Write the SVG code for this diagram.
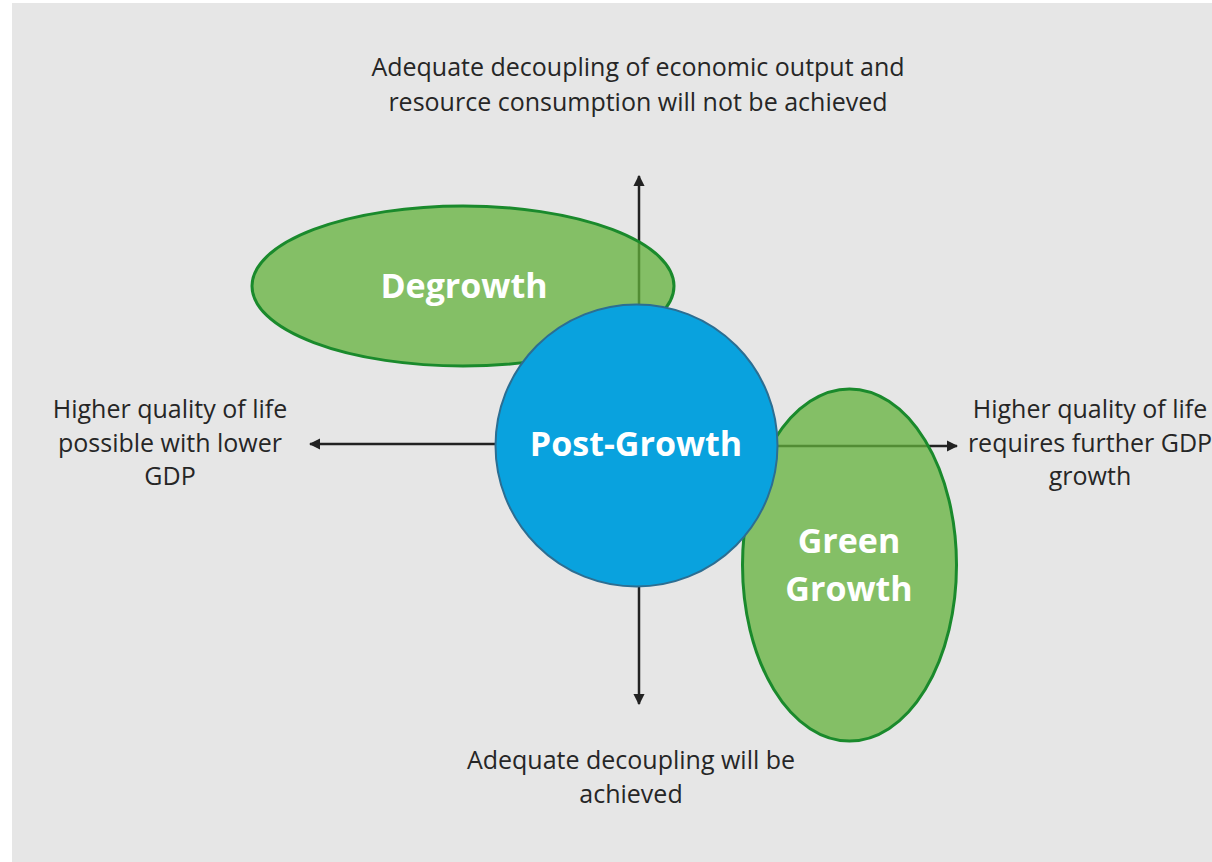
<svg xmlns="http://www.w3.org/2000/svg" width="1212" height="862" viewBox="0 0 1212 862">
<style>
.lbl{font-family:"Open Sans","Liberation Sans",sans-serif;font-size:25px;fill:#262626;text-anchor:middle}
.nl{font-family:"Open Sans","Liberation Sans",sans-serif;font-weight:bold;font-size:34px;fill:#ffffff;text-anchor:middle}
.ax{stroke:#222;stroke-width:2.5;fill:none}
.leaf{fill:#63b23b;fill-opacity:0.75;stroke:#1a8a2c;stroke-width:3}
</style>
<defs>
<marker id="ah" viewBox="0 0 10 10" refX="9" refY="5" markerWidth="4.5" markerHeight="4.5" orient="auto" markerUnits="strokeWidth">
<path d="M0,0 L10,5 L0,10 z" fill="#222"/>
</marker>
</defs>
<rect x="0" y="0" width="1212" height="862" fill="#ffffff"/>
<rect x="12" y="3" width="1200" height="859" fill="#e6e6e6"/>
<g id="connectors">
<line class="ax" x1="639" y1="320" x2="639" y2="176" marker-end="url(#ah)"/>
<line class="ax" x1="639" y1="580" x2="639" y2="704" marker-end="url(#ah)"/>
<line class="ax" x1="500" y1="444" x2="310" y2="444" marker-end="url(#ah)"/>
<line class="ax" x1="770" y1="446" x2="957" y2="446" marker-end="url(#ah)"/>
</g>
<g id="degrowth">
<ellipse class="leaf" cx="463" cy="286" rx="211" ry="80"/>
<text class="nl" x="464" y="298">Degrowth</text>
</g>
<g id="green-growth">
<ellipse class="leaf" cx="849.5" cy="565" rx="107" ry="176"/>
<text class="nl" x="849" y="553">Green</text>
<text class="nl" x="849" y="601">Growth</text>
</g>
<g id="post-growth">
<circle cx="636.5" cy="445.5" r="141" fill="#09a2de" stroke="#2c6e92" stroke-width="2"/>
<text class="nl" x="636" y="456">Post-Growth</text>
</g>
<g id="label-top">
<text class="lbl" x="638" y="76">Adequate decoupling of economic output and</text>
<text class="lbl" x="638" y="111">resource consumption will not be achieved</text>
</g>
<g id="label-left">
<text class="lbl" x="170" y="418">Higher quality of life</text>
<text class="lbl" x="170" y="452">possible with lower</text>
<text class="lbl" x="170" y="485">GDP</text>
</g>
<g id="label-right">
<text class="lbl" x="1090" y="418">Higher quality of life</text>
<text class="lbl" x="1090" y="452">requires further GDP</text>
<text class="lbl" x="1090" y="485">growth</text>
</g>
<g id="label-bottom">
<text class="lbl" x="631" y="769">Adequate decoupling will be</text>
<text class="lbl" x="631" y="803">achieved</text>
</g>
</svg>
